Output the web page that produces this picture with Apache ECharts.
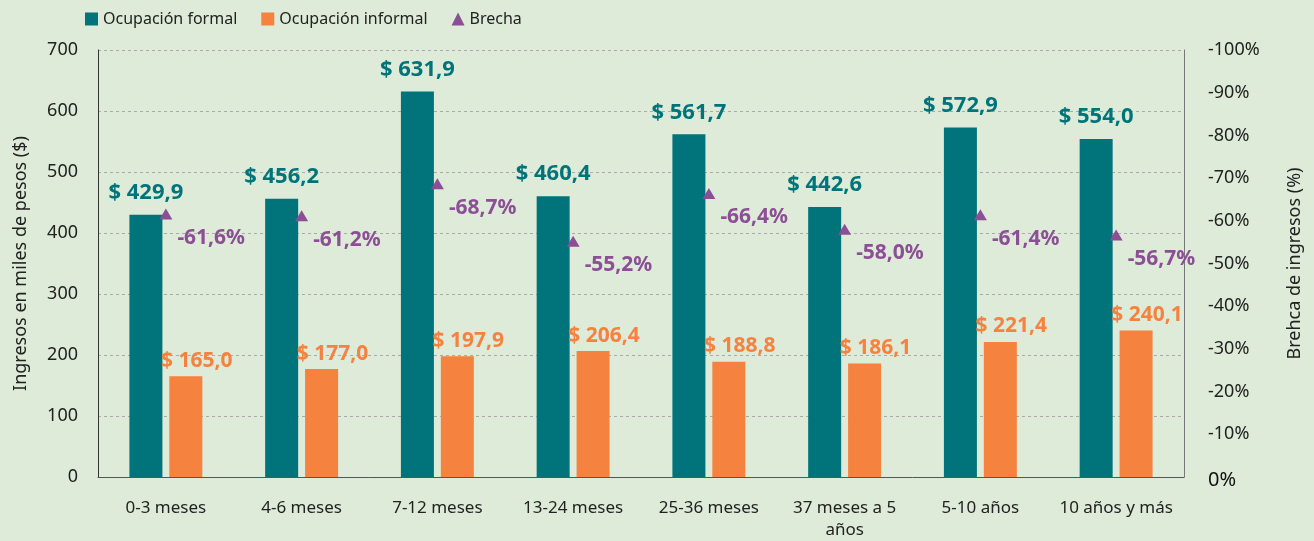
<!DOCTYPE html>
<html lang="es">
<head>
    <meta charset="utf-8">
    <title>Ingresos por antigüedad</title>
    <script src="https://cdn.jsdelivr.net/npm/echarts@6/dist/echarts.min.js"></script>
    <style>
        html, body { margin: 0; padding: 0; background: #ddebd8; }
        #main { width: 1314px; height: 541px; }
    </style>
</head>
<body>
<div id="main"></div>
<script type="text/javascript">
    var categorias = ['0-3 meses', '4-6 meses', '7-12 meses', '13-24 meses', '25-36 meses',
        '37 meses a 5\naños', '5-10 años', '10 años y más'];
    var formal = [429.9, 456.2, 631.9, 460.4, 561.7, 442.6, 572.9, 554.0];
    var informal = [165.0, 177.0, 197.9, 206.4, 188.8, 186.1, 221.4, 240.1];
    var brecha = [-61.6, -61.2, -68.7, -55.2, -66.4, -58.0, -61.4, -56.7];

    var fuente = '"Noto Sans", sans-serif';
    var coma = function (v) { return v.toFixed(1).replace('.', ','); };

    var myChart = echarts.init(document.getElementById('main'));
    var option = {
        backgroundColor: '#ddebd8',
        textStyle: { fontFamily: fuente },
        legend: {
            left: 80,
            top: 6,
            itemWidth: 13,
            itemHeight: 13,
            itemGap: 24,
            textStyle: { fontSize: 16, color: '#222', fontFamily: fuente },
            data: [
                { name: 'Ocupación formal', icon: 'rect' },
                { name: 'Ocupación informal', icon: 'rect' },
                { name: 'Brecha', icon: 'triangle' }
            ]
        },
        grid: { left: 98, right: 130, top: 50, bottom: 64 },
        xAxis: {
            type: 'category',
            data: categorias,
            axisLine: { lineStyle: { color: '#555' } },
            axisTick: { show: false },
            axisLabel: { color: '#222', fontSize: 17, margin: 20, lineHeight: 22, interval: 0 }
        },
        yAxis: [
            {
                type: 'value',
                min: 0,
                max: 700,
                interval: 100,
                name: 'Ingresos en miles de pesos ($)',
                nameLocation: 'middle',
                nameGap: 68,
                nameTextStyle: { fontSize: 18, color: '#222' },
                axisLine: { show: true, lineStyle: { color: '#333' } },
                axisTick: { show: false },
                axisLabel: { color: '#222', fontSize: 18, margin: 20 },
                splitLine: { lineStyle: { color: '#aaa', type: [3, 3] } }
            },
            {
                type: 'value',
                min: -100,
                max: 0,
                interval: 10,
                inverse: true,
                position: 'right',
                name: 'Brehca de ingresos (%)',
                nameLocation: 'middle',
                nameRotate: 90,
                nameGap: 102,
                nameTextStyle: { fontSize: 18, color: '#222' },
                axisLine: { show: true, lineStyle: { color: '#777' } },
                axisTick: { show: false },
                axisLabel: {
                    color: '#222', fontSize: 18, margin: 24,
                    formatter: function (v) { return v === 0 ? '{cero|0%}' : v + '%'; },
                    rich: { cero: { fontSize: 20, color: '#111', padding: [6, 0, 0, 0] } }
                },
                splitLine: { show: false }
            }
        ],
        series: [
            {
                name: 'Ocupación formal',
                type: 'bar',
                data: formal,
                barWidth: 33,
                barGap: '21%',
                itemStyle: { color: '#00747a' },
                label: {
                    show: true,
                    position: 'top',
                    distance: 11,
                    color: '#00747a',
                    fontSize: 22,
                    fontWeight: 'bold',
                    formatter: function (p) { return '$ ' + coma(p.value); }
                }
            },
            {
                name: 'Ocupación informal',
                type: 'bar',
                data: informal,
                barWidth: 33,
                itemStyle: { color: '#f5823e' },
                label: {
                    show: true,
                    position: 'top',
                    distance: 5,
                    offset: [11, 0],
                    color: '#f5823e',
                    fontSize: 21,
                    fontWeight: 'bold',
                    formatter: function (p) { return '$ ' + coma(p.value); }
                }
            },
            {
                name: 'Brecha',
                type: 'line',
                yAxisIndex: 1,
                data: brecha,
                symbol: 'triangle',
                symbolSize: [13, 11],
                lineStyle: { width: 0, opacity: 0 },
                itemStyle: { color: '#8c4e95' },
                z: 5,
                label: {
                    show: true,
                    position: 'right',
                    distance: 5,
                    offset: [0, 24],
                    color: '#8c4e95',
                    fontSize: 21,
                    fontWeight: 'bold',
                    formatter: function (p) { return coma(p.value) + '%'; }
                }
            }
        ]
    };
    myChart.setOption(option);
</script>
</body>
</html>
